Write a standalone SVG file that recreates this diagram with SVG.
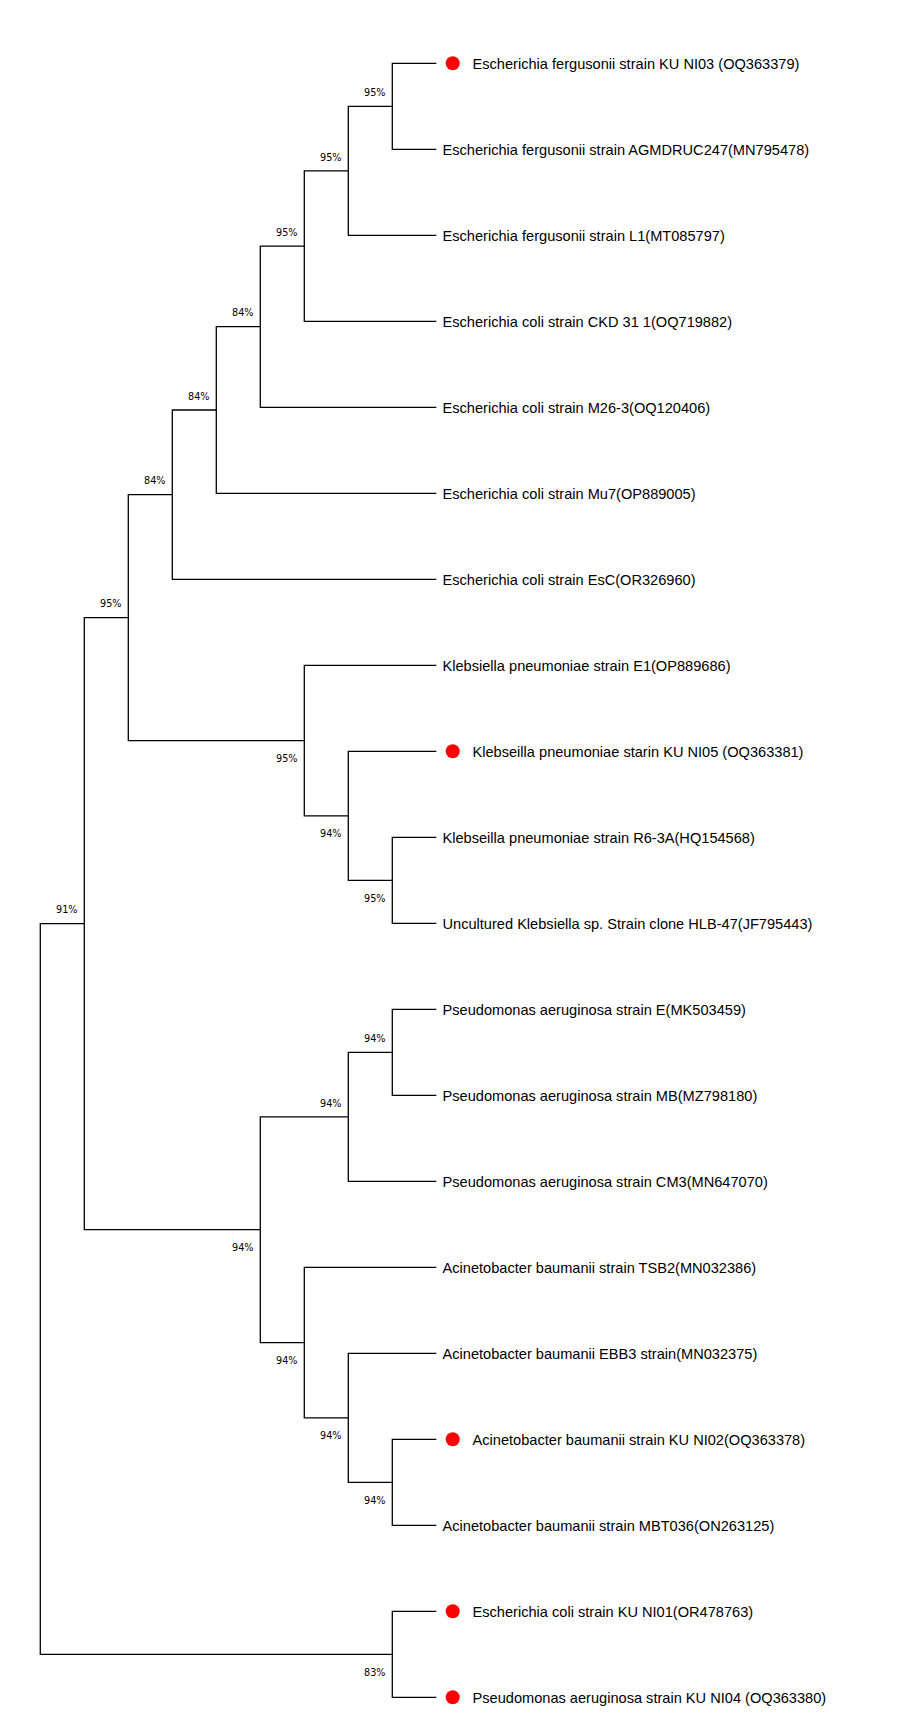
<svg xmlns="http://www.w3.org/2000/svg" width="908" height="1732" viewBox="0 0 908 1732">
<style>
.br{fill:none;stroke:#000;stroke-width:1.3;stroke-linecap:square}
.tip{font-family:"Liberation Sans",Arial,sans-serif;font-size:14.6px;fill:#000}
.bs{font-family:"DejaVu Sans",Verdana,sans-serif;font-size:9.7px;fill:#000;text-anchor:end}
.dot{fill:#ff0000}
</style>
<rect width="908" height="1732" fill="#fff"/>
<g id="connectors">
<path class="br" d="M40.3,923.6V1654.3M40.3,923.6H84.3M40.3,1654.3H392.3"/>
<path class="br" d="M84.3,617.6V1229.7M84.3,617.6H128.3M84.3,1229.7H260.3"/>
<path class="br" d="M128.3,494.6V740.6M128.3,494.6H172.3M128.3,740.6H304.3"/>
<path class="br" d="M172.3,410V579.3M172.3,410H216.3M172.3,579.3H435.7"/>
<path class="br" d="M216.3,326.7V493.3M216.3,326.7H260.3M216.3,493.3H435.7"/>
<path class="br" d="M260.3,246.05V407.3M260.3,246.05H304.3M260.3,407.3H435.7"/>
<path class="br" d="M304.3,170.8V321.3M304.3,170.8H348.3M304.3,321.3H435.7"/>
<path class="br" d="M348.3,106.3V235.3M348.3,106.3H392.3M348.3,235.3H435.7"/>
<path class="br" d="M392.3,63.3V149.3M392.3,63.3H435.7M392.3,149.3H435.7"/>
<path class="br" d="M304.3,665.3V815.8M304.3,665.3H435.7M304.3,815.8H348.3"/>
<path class="br" d="M348.3,751.3V880.3M348.3,751.3H435.7M348.3,880.3H392.3"/>
<path class="br" d="M392.3,837.3V923.3M392.3,837.3H435.7M392.3,923.3H435.7"/>
<path class="br" d="M260.3,1116.8V1342.55M260.3,1116.8H348.3M260.3,1342.55H304.3"/>
<path class="br" d="M348.3,1052.3V1181.3M348.3,1052.3H392.3M348.3,1181.3H435.7"/>
<path class="br" d="M392.3,1009.3V1095.3M392.3,1009.3H435.7M392.3,1095.3H435.7"/>
<path class="br" d="M304.3,1267.3V1417.8M304.3,1267.3H435.7M304.3,1417.8H348.3"/>
<path class="br" d="M348.3,1353.3V1482.3M348.3,1353.3H435.7M348.3,1482.3H392.3"/>
<path class="br" d="M392.3,1439.3V1525.3M392.3,1439.3H435.7M392.3,1525.3H435.7"/>
<path class="br" d="M392.3,1611.3V1697.3M392.3,1611.3H435.7M392.3,1697.3H435.7"/>
</g>
<g id="support-labels">
<g id="n01"><text class="bs" x="385.6" y="96">95%</text></g>
<g id="n012"><text class="bs" x="341.6" y="160.5">95%</text></g>
<g id="n0123"><text class="bs" x="297.6" y="235.75">95%</text></g>
<g id="n01234"><text class="bs" x="253.6" y="316.4">84%</text></g>
<g id="n0to5"><text class="bs" x="209.6" y="399.7">84%</text></g>
<g id="n0to6"><text class="bs" x="165.6" y="484.3">84%</text></g>
<g id="n0to10"><text class="bs" x="121.6" y="607.3">95%</text></g>
<g id="n7to10"><text class="bs" x="297.6" y="762.1">95%</text></g>
<g id="n8to10"><text class="bs" x="341.6" y="837.3">94%</text></g>
<g id="n9to10"><text class="bs" x="385.6" y="901.8">95%</text></g>
<g id="n0to17"><text class="bs" x="77.6" y="912.5">91%</text></g>
<g id="n11to12"><text class="bs" x="385.6" y="1042">94%</text></g>
<g id="n11to13"><text class="bs" x="341.6" y="1106.5">94%</text></g>
<g id="n11to17"><text class="bs" x="253.6" y="1251.2">94%</text></g>
<g id="n14to17"><text class="bs" x="297.6" y="1364.05">94%</text></g>
<g id="n15to17"><text class="bs" x="341.6" y="1439.3">94%</text></g>
<g id="n16to17"><text class="bs" x="385.6" y="1503.8">94%</text></g>
<g id="n18to19"><text class="bs" x="385.6" y="1675.8">83%</text></g>
</g>
<g id="tips">
<g id="t0"><circle class="dot" cx="452.7" cy="63.3" r="7"/><text class="tip" x="472.5" y="68.7">Escherichia fergusonii strain KU NI03 (OQ363379)</text></g>
<g id="t1"><text class="tip" x="442.5" y="154.7">Escherichia fergusonii strain AGMDRUC247(MN795478)</text></g>
<g id="t2"><text class="tip" x="442.5" y="240.7">Escherichia fergusonii strain L1(MT085797)</text></g>
<g id="t3"><text class="tip" x="442.5" y="326.7">Escherichia coli strain CKD 31 1(OQ719882)</text></g>
<g id="t4"><text class="tip" x="442.5" y="412.7">Escherichia coli strain M26-3(OQ120406)</text></g>
<g id="t5"><text class="tip" x="442.5" y="498.7">Escherichia coli strain Mu7(OP889005)</text></g>
<g id="t6"><text class="tip" x="442.5" y="584.7">Escherichia coli strain EsC(OR326960)</text></g>
<g id="t7"><text class="tip" x="442.5" y="670.7">Klebsiella pneumoniae strain E1(OP889686)</text></g>
<g id="t8"><circle class="dot" cx="452.7" cy="751.3" r="7"/><text class="tip" x="472.5" y="756.7">Klebseilla pneumoniae starin KU NI05 (OQ363381)</text></g>
<g id="t9"><text class="tip" x="442.5" y="842.7">Klebseilla pneumoniae strain R6-3A(HQ154568)</text></g>
<g id="t10"><text class="tip" x="442.5" y="928.7">Uncultured Klebsiella sp. Strain clone HLB-47(JF795443)</text></g>
<g id="t11"><text class="tip" x="442.5" y="1014.7">Pseudomonas aeruginosa strain E(MK503459)</text></g>
<g id="t12"><text class="tip" x="442.5" y="1100.7">Pseudomonas aeruginosa strain MB(MZ798180)</text></g>
<g id="t13"><text class="tip" x="442.5" y="1186.7">Pseudomonas aeruginosa strain CM3(MN647070)</text></g>
<g id="t14"><text class="tip" x="442.5" y="1272.7">Acinetobacter baumanii strain TSB2(MN032386)</text></g>
<g id="t15"><text class="tip" x="442.5" y="1358.7">Acinetobacter baumanii EBB3 strain(MN032375)</text></g>
<g id="t16"><circle class="dot" cx="452.7" cy="1439.3" r="7"/><text class="tip" x="472.5" y="1444.7">Acinetobacter baumanii strain KU NI02(OQ363378)</text></g>
<g id="t17"><text class="tip" x="442.5" y="1530.7">Acinetobacter baumanii strain MBT036(ON263125)</text></g>
<g id="t18"><circle class="dot" cx="452.7" cy="1611.3" r="7"/><text class="tip" x="472.5" y="1616.7">Escherichia coli strain KU NI01(OR478763)</text></g>
<g id="t19"><circle class="dot" cx="452.7" cy="1697.3" r="7"/><text class="tip" x="472.5" y="1702.7">Pseudomonas aeruginosa strain KU NI04 (OQ363380)</text></g>
</g>
</svg>
